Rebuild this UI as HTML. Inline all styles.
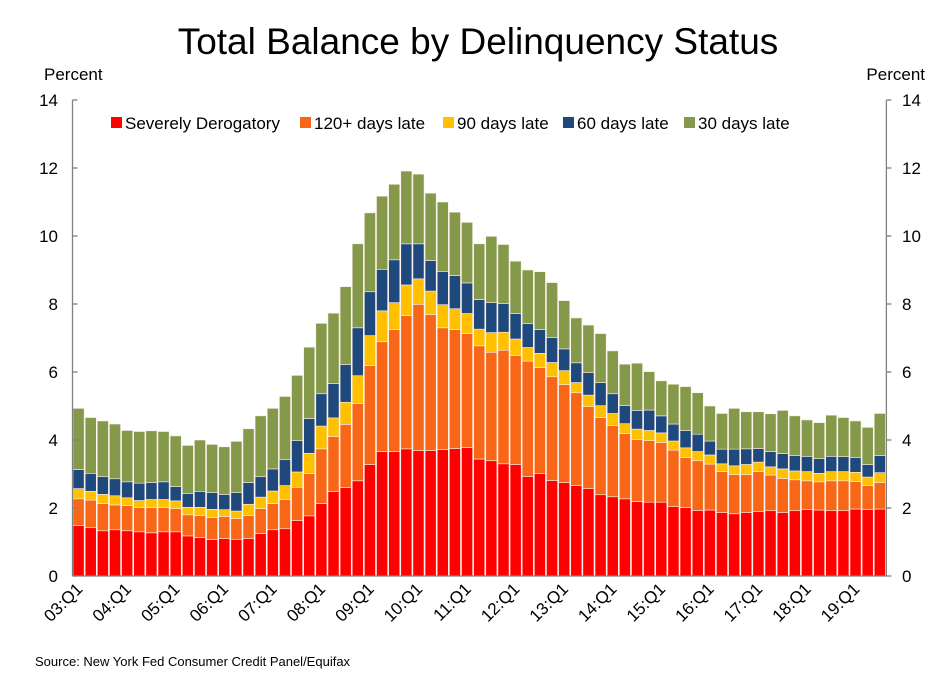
<!DOCTYPE html>
<html><head><meta charset="utf-8"><style>
body{margin:0;background:#fff}
svg{display:block;font-family:"Liberation Sans",Arial,sans-serif}
</style></head><body>
<svg id="chart" width="944" height="677" viewBox="0 0 944 677">
<rect x="0" y="0" width="944" height="677" fill="#fff"/>
<text x="478" y="54" font-size="37" text-anchor="middle" fill="#000">Total Balance by Delinquency Status</text>
<text x="44" y="80" font-size="17" fill="#000">Percent</text>
<text x="925" y="80" font-size="17" text-anchor="end" fill="#000">Percent</text>
<g id="bars"></g>
<g id="axes"></g>
<g font-size="17">
<g><rect x="111" y="117" width="11" height="11" fill="#FF0000"/><text x="125" y="129">Severely Derogatory</text></g>
<g><rect x="300" y="117" width="11" height="11" fill="#F76717"/><text x="314" y="129">120+ days late</text></g>
<g><rect x="443" y="117" width="11" height="11" fill="#FFC000"/><text x="457" y="129">90 days late</text></g>
<g><rect x="563" y="117" width="11" height="11" fill="#1F497D"/><text x="577" y="129">60 days late</text></g>
<g><rect x="684" y="117" width="11" height="11" fill="#84994A"/><text x="698" y="129">30 days late</text></g>
</g>
<text x="35" y="666" font-size="13" fill="#000">Source: New York Fed Consumer Credit Panel/Equifax</text>
</svg>
<script>
const severe=[1.48,1.42,1.33,1.36,1.33,1.30,1.27,1.30,1.30,1.18,1.13,1.07,1.10,1.08,1.10,1.25,1.36,1.39,1.63,1.77,2.13,2.48,2.60,2.80,3.28,3.66,3.66,3.74,3.69,3.69,3.72,3.75,3.78,3.44,3.39,3.30,3.28,2.93,3.02,2.81,2.75,2.66,2.57,2.39,2.33,2.27,2.19,2.17,2.17,2.04,2.01,1.93,1.94,1.87,1.83,1.87,1.90,1.92,1.87,1.92,1.95,1.94,1.92,1.92,1.97,1.95,1.97];
const late120=[0.79,0.81,0.80,0.73,0.74,0.71,0.74,0.71,0.68,0.62,0.65,0.65,0.65,0.61,0.68,0.73,0.77,0.86,0.98,1.24,1.61,1.62,1.86,2.27,2.91,3.23,3.59,3.92,4.30,4.00,3.58,3.50,3.35,3.33,3.19,3.34,3.20,3.39,3.11,3.05,2.88,2.73,2.41,2.27,2.09,1.92,1.82,1.81,1.76,1.66,1.47,1.46,1.35,1.20,1.15,1.11,1.17,1.05,1.00,0.91,0.85,0.83,0.88,0.88,0.81,0.71,0.78];
const late90=[0.30,0.26,0.27,0.27,0.23,0.21,0.24,0.24,0.23,0.22,0.24,0.24,0.20,0.22,0.33,0.34,0.37,0.41,0.45,0.60,0.67,0.55,0.65,0.82,0.88,0.91,0.79,0.90,0.75,0.69,0.68,0.61,0.59,0.49,0.58,0.53,0.49,0.40,0.42,0.42,0.41,0.30,0.34,0.35,0.36,0.29,0.31,0.30,0.28,0.27,0.29,0.27,0.27,0.23,0.26,0.30,0.28,0.24,0.28,0.26,0.27,0.25,0.27,0.27,0.27,0.25,0.29];
const late60=[0.56,0.53,0.52,0.50,0.47,0.51,0.50,0.52,0.42,0.41,0.47,0.49,0.45,0.54,0.64,0.60,0.65,0.76,0.92,1.02,0.95,1.01,1.11,1.41,1.29,1.22,1.26,1.21,1.03,0.90,0.98,0.98,0.90,0.87,0.88,0.84,0.75,0.70,0.70,0.73,0.64,0.58,0.66,0.68,0.58,0.53,0.55,0.60,0.50,0.50,0.51,0.51,0.41,0.43,0.49,0.46,0.40,0.45,0.45,0.45,0.45,0.43,0.45,0.44,0.43,0.37,0.50];
const late30=[1.80,1.64,1.64,1.61,1.51,1.52,1.52,1.48,1.49,1.41,1.51,1.42,1.40,1.51,1.58,1.79,1.78,1.86,1.92,2.10,2.07,2.07,2.29,2.47,2.32,2.15,2.22,2.14,2.05,1.98,2.04,1.86,1.78,1.64,1.95,1.74,1.54,1.58,1.70,1.62,1.42,1.32,1.40,1.44,1.26,1.22,1.39,1.13,1.03,1.17,1.29,1.22,1.03,1.05,1.20,1.09,1.08,1.11,1.27,1.17,1.07,1.06,1.21,1.15,1.08,1.09,1.24];
const series=[severe,late120,late90,late60,late30];
const seriesNames=['severely-derogatory','120-days-late','90-days-late','60-days-late','30-days-late'];
const colors=['#FF0000','#F76717','#FFC000','#1F497D','#84994A'];
const yTicks=[0,2,4,6,8,10,12,14];
const NS='http://www.w3.org/2000/svg';
const X0=72.5,BAND=12.14,Y0=576,PXU=34;
function xPos(i){return X0+i*BAND;}
function yPos(v){return Y0-v*PXU;}
function qLabel(i){const y=3+Math.floor(i/4);return (y<10?'0':'')+y+':Q'+(i%4+1);}
const bars=document.getElementById('bars');
for(let i=0;i<severe.length;i++){
  let cum=0;
  for(let s=0;s<series.length;s++){
    const v=series[s][i];
    const r=document.createElementNS(NS,'rect');
    
    
    r.setAttribute('x',xPos(i)+0.5);
    r.setAttribute('width',BAND-1);
    r.setAttribute('y',yPos(cum+v));
    r.setAttribute('height',v*PXU);
    r.setAttribute('fill',colors[s]);
    r.setAttribute('stroke','#fbeee8');
    r.setAttribute('stroke-width','0.6');
    bars.appendChild(r);
    cum+=v;
  }
}
const axes=document.getElementById('axes');
function line(x1,y1,x2,y2,name){const l=document.createElementNS(NS,'line');
  
  
  l.setAttribute('x1',x1);l.setAttribute('y1',y1);l.setAttribute('x2',x2);l.setAttribute('y2',y2);
  l.setAttribute('stroke','#808080');l.setAttribute('stroke-width','1.3');axes.appendChild(l);}
const XR=X0+severe.length*BAND+0.5;
line(X0,yPos(14),X0,Y0,'left-axis-line');
line(XR,yPos(14),XR,Y0,'right-axis-line');
line(X0,Y0,XR,Y0,'x-axis-line');
function text(x,y,s,anchor,name,extra){const t=document.createElementNS(NS,'text');
  
  
  t.setAttribute('x',x);t.setAttribute('y',y);t.setAttribute('font-size','17');t.setAttribute('text-anchor',anchor);
  if(extra)t.setAttribute('transform',extra);t.textContent=s;axes.appendChild(t);}
yTicks.forEach(v=>{
  line(X0,yPos(v),X0+5,yPos(v),'left-tick');
  line(XR,yPos(v),XR+5,yPos(v),'right-tick');
  text(58,yPos(v)+6,String(v),'end','left-tick-label');
  text(902,yPos(v)+6,String(v),'start','right-tick-label');
});
for(let i=0;i<severe.length;i+=4){
  const cx=xPos(i)+BAND/2+5, cy=590;
  text(cx,cy,qLabel(i),'end','x-tick-label','rotate(-45 '+cx+' '+cy+')');
}
</script>
</body></html>
